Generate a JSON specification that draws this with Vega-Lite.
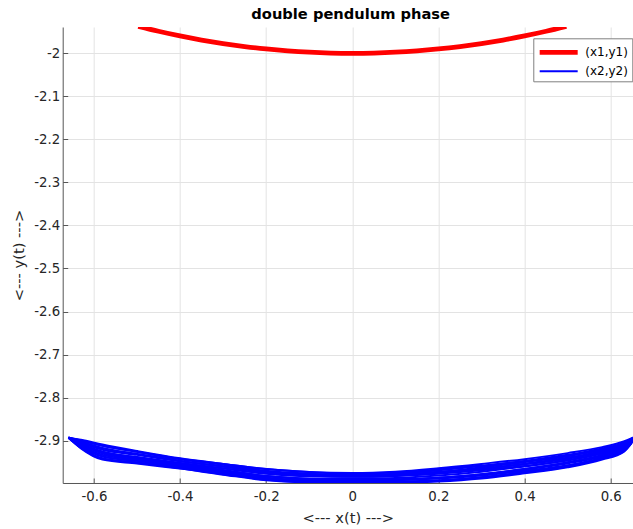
{
  "$schema": "https://vega.github.io/schema/vega-lite/v6.json",
  "width": 570,
  "height": 456,
  "autosize": "none",
  "padding": {"left": 62.7, "top": 27, "right": 0, "bottom": 46},
  "background": "white",
  "title": {"text": "double pendulum phase", "font": "DejaVu Sans", "fontSize": 14.67, "fontWeight": "bold", "color": "#000000", "offset": 5, "dx": 3},
  "data": {"values": [
    {"s":"(x1,y1)","k":0,"x":-0.497,"y":-1.93728},
    {"s":"(x1,y1)","k":0,"x":-0.45,"y":-1.94872},
    {"s":"(x1,y1)","k":0,"x":-0.4,"y":-1.95959},
    {"s":"(x1,y1)","k":0,"x":-0.35,"y":-1.96914},
    {"s":"(x1,y1)","k":0,"x":-0.3,"y":-1.97737},
    {"s":"(x1,y1)","k":0,"x":-0.25,"y":-1.98431},
    {"s":"(x1,y1)","k":0,"x":-0.2,"y":-1.98997},
    {"s":"(x1,y1)","k":0,"x":-0.15,"y":-1.99437},
    {"s":"(x1,y1)","k":0,"x":-0.1,"y":-1.9975},
    {"s":"(x1,y1)","k":0,"x":-0.05,"y":-1.99937},
    {"s":"(x1,y1)","k":0,"x":0,"y":-2.0},
    {"s":"(x1,y1)","k":0,"x":0.05,"y":-1.99937},
    {"s":"(x1,y1)","k":0,"x":0.1,"y":-1.9975},
    {"s":"(x1,y1)","k":0,"x":0.15,"y":-1.99437},
    {"s":"(x1,y1)","k":0,"x":0.2,"y":-1.98997},
    {"s":"(x1,y1)","k":0,"x":0.25,"y":-1.98431},
    {"s":"(x1,y1)","k":0,"x":0.3,"y":-1.97737},
    {"s":"(x1,y1)","k":0,"x":0.35,"y":-1.96914},
    {"s":"(x1,y1)","k":0,"x":0.4,"y":-1.95959},
    {"s":"(x1,y1)","k":0,"x":0.45,"y":-1.94872},
    {"s":"(x1,y1)","k":0,"x":0.497,"y":-1.93728},

    {"s":"(x2,y2)","k":1,"x":-0.659,"y":-2.893},{"s":"(x2,y2)","k":1,"x":-0.63,"y":-2.898},{"s":"(x2,y2)","k":1,"x":-0.58,"y":-2.909},{"s":"(x2,y2)","k":1,"x":-0.5,"y":-2.924},{"s":"(x2,y2)","k":1,"x":-0.4,"y":-2.941},{"s":"(x2,y2)","k":1,"x":-0.3,"y":-2.954},{"s":"(x2,y2)","k":1,"x":-0.2,"y":-2.966},{"s":"(x2,y2)","k":1,"x":-0.1,"y":-2.973},{"s":"(x2,y2)","k":1,"x":0,"y":-2.977},{"s":"(x2,y2)","k":1,"x":0.1,"y":-2.974},{"s":"(x2,y2)","k":1,"x":0.2,"y":-2.967},{"s":"(x2,y2)","k":1,"x":0.3,"y":-2.958},{"s":"(x2,y2)","k":1,"x":0.4,"y":-2.948},{"s":"(x2,y2)","k":1,"x":0.5,"y":-2.935},{"s":"(x2,y2)","k":1,"x":0.58,"y":-2.921},{"s":"(x2,y2)","k":1,"x":0.63,"y":-2.907},{"s":"(x2,y2)","k":1,"x":0.66,"y":-2.889},

    {"s":"(x2,y2)","k":2,"x":-0.659,"y":-2.893},{"s":"(x2,y2)","k":2,"x":-0.63,"y":-2.908},{"s":"(x2,y2)","k":2,"x":-0.58,"y":-2.926},{"s":"(x2,y2)","k":2,"x":-0.5,"y":-2.938},{"s":"(x2,y2)","k":2,"x":-0.4,"y":-2.952},{"s":"(x2,y2)","k":2,"x":-0.3,"y":-2.965},{"s":"(x2,y2)","k":2,"x":-0.2,"y":-2.977},{"s":"(x2,y2)","k":2,"x":-0.1,"y":-2.983},{"s":"(x2,y2)","k":2,"x":0,"y":-2.984},{"s":"(x2,y2)","k":2,"x":0.1,"y":-2.982},{"s":"(x2,y2)","k":2,"x":0.2,"y":-2.975},{"s":"(x2,y2)","k":2,"x":0.3,"y":-2.966},{"s":"(x2,y2)","k":2,"x":0.4,"y":-2.954},{"s":"(x2,y2)","k":2,"x":0.5,"y":-2.94},{"s":"(x2,y2)","k":2,"x":0.58,"y":-2.924},{"s":"(x2,y2)","k":2,"x":0.63,"y":-2.909},{"s":"(x2,y2)","k":2,"x":0.66,"y":-2.889},

    {"s":"(x2,y2)","k":3,"x":-0.659,"y":-2.893},{"s":"(x2,y2)","k":3,"x":-0.63,"y":-2.916},{"s":"(x2,y2)","k":3,"x":-0.58,"y":-2.941},{"s":"(x2,y2)","k":3,"x":-0.5,"y":-2.951},{"s":"(x2,y2)","k":3,"x":-0.4,"y":-2.964},{"s":"(x2,y2)","k":3,"x":-0.3,"y":-2.978},{"s":"(x2,y2)","k":3,"x":-0.2,"y":-2.991},{"s":"(x2,y2)","k":3,"x":-0.1,"y":-2.997},{"s":"(x2,y2)","k":3,"x":0,"y":-2.999},{"s":"(x2,y2)","k":3,"x":0.1,"y":-2.998},{"s":"(x2,y2)","k":3,"x":0.2,"y":-2.995},{"s":"(x2,y2)","k":3,"x":0.3,"y":-2.988},{"s":"(x2,y2)","k":3,"x":0.4,"y":-2.976},{"s":"(x2,y2)","k":3,"x":0.5,"y":-2.962},{"s":"(x2,y2)","k":3,"x":0.58,"y":-2.944},{"s":"(x2,y2)","k":3,"x":0.63,"y":-2.926},{"s":"(x2,y2)","k":3,"x":0.66,"y":-2.889},

    {"s":"(x2,y2)","k":4,"x":-0.659,"y":-2.893},{"s":"(x2,y2)","k":4,"x":-0.63,"y":-2.902},{"s":"(x2,y2)","k":4,"x":-0.58,"y":-2.917},{"s":"(x2,y2)","k":4,"x":-0.5,"y":-2.931},{"s":"(x2,y2)","k":4,"x":-0.4,"y":-2.947},{"s":"(x2,y2)","k":4,"x":-0.3,"y":-2.96},{"s":"(x2,y2)","k":4,"x":-0.2,"y":-2.973},{"s":"(x2,y2)","k":4,"x":-0.1,"y":-2.981},{"s":"(x2,y2)","k":4,"x":0,"y":-2.984},{"s":"(x2,y2)","k":4,"x":0.1,"y":-2.982},{"s":"(x2,y2)","k":4,"x":0.2,"y":-2.977},{"s":"(x2,y2)","k":4,"x":0.3,"y":-2.969},{"s":"(x2,y2)","k":4,"x":0.4,"y":-2.959},{"s":"(x2,y2)","k":4,"x":0.5,"y":-2.946},{"s":"(x2,y2)","k":4,"x":0.58,"y":-2.93},{"s":"(x2,y2)","k":4,"x":0.63,"y":-2.915},{"s":"(x2,y2)","k":4,"x":0.66,"y":-2.889},

    {"s":"(x2,y2)","k":5,"x":-0.659,"y":-2.893},{"s":"(x2,y2)","k":5,"x":-0.63,"y":-2.912},{"s":"(x2,y2)","k":5,"x":-0.58,"y":-2.933},{"s":"(x2,y2)","k":5,"x":-0.5,"y":-2.944},{"s":"(x2,y2)","k":5,"x":-0.4,"y":-2.957},{"s":"(x2,y2)","k":5,"x":-0.3,"y":-2.97},{"s":"(x2,y2)","k":5,"x":-0.2,"y":-2.982},{"s":"(x2,y2)","k":5,"x":-0.1,"y":-2.988},{"s":"(x2,y2)","k":5,"x":0,"y":-2.989},{"s":"(x2,y2)","k":5,"x":0.1,"y":-2.987},{"s":"(x2,y2)","k":5,"x":0.2,"y":-2.981},{"s":"(x2,y2)","k":5,"x":0.3,"y":-2.972},{"s":"(x2,y2)","k":5,"x":0.4,"y":-2.96},{"s":"(x2,y2)","k":5,"x":0.5,"y":-2.945},{"s":"(x2,y2)","k":5,"x":0.58,"y":-2.929},{"s":"(x2,y2)","k":5,"x":0.63,"y":-2.913},{"s":"(x2,y2)","k":5,"x":0.66,"y":-2.889},

    {"s":"(x2,y2)","k":6,"x":-0.659,"y":-2.893},{"s":"(x2,y2)","k":6,"x":-0.63,"y":-2.918},{"s":"(x2,y2)","k":6,"x":-0.58,"y":-2.944},{"s":"(x2,y2)","k":6,"x":-0.5,"y":-2.953},{"s":"(x2,y2)","k":6,"x":-0.4,"y":-2.965},{"s":"(x2,y2)","k":6,"x":-0.3,"y":-2.979},{"s":"(x2,y2)","k":6,"x":-0.2,"y":-2.992},{"s":"(x2,y2)","k":6,"x":-0.1,"y":-2.997},{"s":"(x2,y2)","k":6,"x":0,"y":-2.998},{"s":"(x2,y2)","k":6,"x":0.1,"y":-2.997},{"s":"(x2,y2)","k":6,"x":0.2,"y":-2.993},{"s":"(x2,y2)","k":6,"x":0.3,"y":-2.985},{"s":"(x2,y2)","k":6,"x":0.4,"y":-2.973},{"s":"(x2,y2)","k":6,"x":0.5,"y":-2.958},{"s":"(x2,y2)","k":6,"x":0.58,"y":-2.94},{"s":"(x2,y2)","k":6,"x":0.63,"y":-2.923},{"s":"(x2,y2)","k":6,"x":0.66,"y":-2.889},

    {"s":"(x2,y2)","k":7,"x":-0.659,"y":-2.893},{"s":"(x2,y2)","k":7,"x":-0.63,"y":-2.905},{"s":"(x2,y2)","k":7,"x":-0.58,"y":-2.921},{"s":"(x2,y2)","k":7,"x":-0.5,"y":-2.933},{"s":"(x2,y2)","k":7,"x":-0.4,"y":-2.948},{"s":"(x2,y2)","k":7,"x":-0.3,"y":-2.96},{"s":"(x2,y2)","k":7,"x":-0.2,"y":-2.972},{"s":"(x2,y2)","k":7,"x":-0.1,"y":-2.978},{"s":"(x2,y2)","k":7,"x":0,"y":-2.98},{"s":"(x2,y2)","k":7,"x":0.1,"y":-2.977},{"s":"(x2,y2)","k":7,"x":0.2,"y":-2.969},{"s":"(x2,y2)","k":7,"x":0.3,"y":-2.959},{"s":"(x2,y2)","k":7,"x":0.4,"y":-2.947},{"s":"(x2,y2)","k":7,"x":0.5,"y":-2.933},{"s":"(x2,y2)","k":7,"x":0.58,"y":-2.918},{"s":"(x2,y2)","k":7,"x":0.63,"y":-2.905},{"s":"(x2,y2)","k":7,"x":0.66,"y":-2.889},

    {"s":"(x2,y2)","k":8,"x":-0.659,"y":-2.893},{"s":"(x2,y2)","k":8,"x":-0.63,"y":-2.91},{"s":"(x2,y2)","k":8,"x":-0.58,"y":-2.93},{"s":"(x2,y2)","k":8,"x":-0.5,"y":-2.942},{"s":"(x2,y2)","k":8,"x":-0.4,"y":-2.956},{"s":"(x2,y2)","k":8,"x":-0.3,"y":-2.97},{"s":"(x2,y2)","k":8,"x":-0.2,"y":-2.983},{"s":"(x2,y2)","k":8,"x":-0.1,"y":-2.99},{"s":"(x2,y2)","k":8,"x":0,"y":-2.992},{"s":"(x2,y2)","k":8,"x":0.1,"y":-2.99},{"s":"(x2,y2)","k":8,"x":0.2,"y":-2.986},{"s":"(x2,y2)","k":8,"x":0.3,"y":-2.979},{"s":"(x2,y2)","k":8,"x":0.4,"y":-2.967},{"s":"(x2,y2)","k":8,"x":0.5,"y":-2.953},{"s":"(x2,y2)","k":8,"x":0.58,"y":-2.937},{"s":"(x2,y2)","k":8,"x":0.63,"y":-2.92},{"s":"(x2,y2)","k":8,"x":0.66,"y":-2.889},

    {"s":"(x2,y2)","k":9,"x":-0.659,"y":-2.893},{"s":"(x2,y2)","k":9,"x":-0.63,"y":-2.9},{"s":"(x2,y2)","k":9,"x":-0.58,"y":-2.912},{"s":"(x2,y2)","k":9,"x":-0.5,"y":-2.926},{"s":"(x2,y2)","k":9,"x":-0.4,"y":-2.942},{"s":"(x2,y2)","k":9,"x":-0.3,"y":-2.954},{"s":"(x2,y2)","k":9,"x":-0.2,"y":-2.966},{"s":"(x2,y2)","k":9,"x":-0.1,"y":-2.973},{"s":"(x2,y2)","k":9,"x":0,"y":-2.975},{"s":"(x2,y2)","k":9,"x":0.1,"y":-2.972},{"s":"(x2,y2)","k":9,"x":0.2,"y":-2.964},{"s":"(x2,y2)","k":9,"x":0.3,"y":-2.954},{"s":"(x2,y2)","k":9,"x":0.4,"y":-2.943},{"s":"(x2,y2)","k":9,"x":0.5,"y":-2.929},{"s":"(x2,y2)","k":9,"x":0.58,"y":-2.915},{"s":"(x2,y2)","k":9,"x":0.63,"y":-2.902},{"s":"(x2,y2)","k":9,"x":0.66,"y":-2.889},

    {"s":"(x2,y2)","k":10,"x":-0.659,"y":-2.893},{"s":"(x2,y2)","k":10,"x":-0.63,"y":-2.914},{"s":"(x2,y2)","k":10,"x":-0.58,"y":-2.937},{"s":"(x2,y2)","k":10,"x":-0.5,"y":-2.947},{"s":"(x2,y2)","k":10,"x":-0.4,"y":-2.96},{"s":"(x2,y2)","k":10,"x":-0.3,"y":-2.973},{"s":"(x2,y2)","k":10,"x":-0.2,"y":-2.986},{"s":"(x2,y2)","k":10,"x":-0.1,"y":-2.992},{"s":"(x2,y2)","k":10,"x":0,"y":-2.993},{"s":"(x2,y2)","k":10,"x":0.1,"y":-2.991},{"s":"(x2,y2)","k":10,"x":0.2,"y":-2.986},{"s":"(x2,y2)","k":10,"x":0.3,"y":-2.978},{"s":"(x2,y2)","k":10,"x":0.4,"y":-2.966},{"s":"(x2,y2)","k":10,"x":0.5,"y":-2.951},{"s":"(x2,y2)","k":10,"x":0.58,"y":-2.934},{"s":"(x2,y2)","k":10,"x":0.63,"y":-2.918},{"s":"(x2,y2)","k":10,"x":0.66,"y":-2.889},

    {"s":"(x2,y2)","k":11,"x":-0.659,"y":-2.893},{"s":"(x2,y2)","k":11,"x":-0.63,"y":-2.907},{"s":"(x2,y2)","k":11,"x":-0.58,"y":-2.926},{"s":"(x2,y2)","k":11,"x":-0.5,"y":-2.939},{"s":"(x2,y2)","k":11,"x":-0.4,"y":-2.954},{"s":"(x2,y2)","k":11,"x":-0.3,"y":-2.968},{"s":"(x2,y2)","k":11,"x":-0.2,"y":-2.982},{"s":"(x2,y2)","k":11,"x":-0.1,"y":-2.989},{"s":"(x2,y2)","k":11,"x":0,"y":-2.992},{"s":"(x2,y2)","k":11,"x":0.1,"y":-2.991},{"s":"(x2,y2)","k":11,"x":0.2,"y":-2.988},{"s":"(x2,y2)","k":11,"x":0.3,"y":-2.981},{"s":"(x2,y2)","k":11,"x":0.4,"y":-2.97},{"s":"(x2,y2)","k":11,"x":0.5,"y":-2.957},{"s":"(x2,y2)","k":11,"x":0.58,"y":-2.94},{"s":"(x2,y2)","k":11,"x":0.63,"y":-2.923},{"s":"(x2,y2)","k":11,"x":0.66,"y":-2.889},

    {"s":"(x2,y2)","k":12,"x":-0.659,"y":-2.893},{"s":"(x2,y2)","k":12,"x":-0.63,"y":-2.903},{"s":"(x2,y2)","k":12,"x":-0.58,"y":-2.918},{"s":"(x2,y2)","k":12,"x":-0.5,"y":-2.931},{"s":"(x2,y2)","k":12,"x":-0.4,"y":-2.947},{"s":"(x2,y2)","k":12,"x":-0.3,"y":-2.96},{"s":"(x2,y2)","k":12,"x":-0.2,"y":-2.972},{"s":"(x2,y2)","k":12,"x":-0.1,"y":-2.979},{"s":"(x2,y2)","k":12,"x":0,"y":-2.982},{"s":"(x2,y2)","k":12,"x":0.1,"y":-2.98},{"s":"(x2,y2)","k":12,"x":0.2,"y":-2.973},{"s":"(x2,y2)","k":12,"x":0.3,"y":-2.965},{"s":"(x2,y2)","k":12,"x":0.4,"y":-2.954},{"s":"(x2,y2)","k":12,"x":0.5,"y":-2.94},{"s":"(x2,y2)","k":12,"x":0.58,"y":-2.925},{"s":"(x2,y2)","k":12,"x":0.63,"y":-2.91},{"s":"(x2,y2)","k":12,"x":0.66,"y":-2.889},

    {"s":"(x2,y2)","k":13,"x":-0.659,"y":-2.893},{"s":"(x2,y2)","k":13,"x":-0.63,"y":-2.899},{"s":"(x2,y2)","k":13,"x":-0.58,"y":-2.912},{"s":"(x2,y2)","k":13,"x":-0.5,"y":-2.926},{"s":"(x2,y2)","k":13,"x":-0.4,"y":-2.943},{"s":"(x2,y2)","k":13,"x":-0.3,"y":-2.956},{"s":"(x2,y2)","k":13,"x":-0.2,"y":-2.97},{"s":"(x2,y2)","k":13,"x":-0.1,"y":-2.977},{"s":"(x2,y2)","k":13,"x":0,"y":-2.981},{"s":"(x2,y2)","k":13,"x":0.1,"y":-2.979},{"s":"(x2,y2)","k":13,"x":0.2,"y":-2.973},{"s":"(x2,y2)","k":13,"x":0.3,"y":-2.965},{"s":"(x2,y2)","k":13,"x":0.4,"y":-2.955},{"s":"(x2,y2)","k":13,"x":0.5,"y":-2.942},{"s":"(x2,y2)","k":13,"x":0.58,"y":-2.927},{"s":"(x2,y2)","k":13,"x":0.63,"y":-2.913},{"s":"(x2,y2)","k":13,"x":0.66,"y":-2.889},

    {"s":"(x2,y2)","k":14,"x":-0.659,"y":-2.893},{"s":"(x2,y2)","k":14,"x":-0.63,"y":-2.913},{"s":"(x2,y2)","k":14,"x":-0.58,"y":-2.936},{"s":"(x2,y2)","k":14,"x":-0.5,"y":-2.947},{"s":"(x2,y2)","k":14,"x":-0.4,"y":-2.961},{"s":"(x2,y2)","k":14,"x":-0.3,"y":-2.975},{"s":"(x2,y2)","k":14,"x":-0.2,"y":-2.988},{"s":"(x2,y2)","k":14,"x":-0.1,"y":-2.994},{"s":"(x2,y2)","k":14,"x":0,"y":-2.996},{"s":"(x2,y2)","k":14,"x":0.1,"y":-2.995},{"s":"(x2,y2)","k":14,"x":0.2,"y":-2.992},{"s":"(x2,y2)","k":14,"x":0.3,"y":-2.985},{"s":"(x2,y2)","k":14,"x":0.4,"y":-2.974},{"s":"(x2,y2)","k":14,"x":0.5,"y":-2.96},{"s":"(x2,y2)","k":14,"x":0.58,"y":-2.942},{"s":"(x2,y2)","k":14,"x":0.63,"y":-2.925},{"s":"(x2,y2)","k":14,"x":0.66,"y":-2.889},

    {"s":"(x2,y2)","k":15,"x":-0.659,"y":-2.893},{"s":"(x2,y2)","k":15,"x":-0.63,"y":-2.909},{"s":"(x2,y2)","k":15,"x":-0.58,"y":-2.927},{"s":"(x2,y2)","k":15,"x":-0.5,"y":-2.939},{"s":"(x2,y2)","k":15,"x":-0.4,"y":-2.952},{"s":"(x2,y2)","k":15,"x":-0.3,"y":-2.964},{"s":"(x2,y2)","k":15,"x":-0.2,"y":-2.976},{"s":"(x2,y2)","k":15,"x":-0.1,"y":-2.982},{"s":"(x2,y2)","k":15,"x":0,"y":-2.983},{"s":"(x2,y2)","k":15,"x":0.1,"y":-2.98},{"s":"(x2,y2)","k":15,"x":0.2,"y":-2.973},{"s":"(x2,y2)","k":15,"x":0.3,"y":-2.962},{"s":"(x2,y2)","k":15,"x":0.4,"y":-2.95},{"s":"(x2,y2)","k":15,"x":0.5,"y":-2.936},{"s":"(x2,y2)","k":15,"x":0.58,"y":-2.92},{"s":"(x2,y2)","k":15,"x":0.63,"y":-2.906},{"s":"(x2,y2)","k":15,"x":0.66,"y":-2.889},

    {"s":"(x2,y2)","k":16,"x":-0.659,"y":-2.893},{"s":"(x2,y2)","k":16,"x":-0.63,"y":-2.917},{"s":"(x2,y2)","k":16,"x":-0.58,"y":-2.942},{"s":"(x2,y2)","k":16,"x":-0.5,"y":-2.951},{"s":"(x2,y2)","k":16,"x":-0.4,"y":-2.963},{"s":"(x2,y2)","k":16,"x":-0.3,"y":-2.976},{"s":"(x2,y2)","k":16,"x":-0.2,"y":-2.988},{"s":"(x2,y2)","k":16,"x":-0.1,"y":-2.994},{"s":"(x2,y2)","k":16,"x":0,"y":-2.994},{"s":"(x2,y2)","k":16,"x":0.1,"y":-2.992},{"s":"(x2,y2)","k":16,"x":0.2,"y":-2.987},{"s":"(x2,y2)","k":16,"x":0.3,"y":-2.978},{"s":"(x2,y2)","k":16,"x":0.4,"y":-2.966},{"s":"(x2,y2)","k":16,"x":0.5,"y":-2.95},{"s":"(x2,y2)","k":16,"x":0.58,"y":-2.933},{"s":"(x2,y2)","k":16,"x":0.63,"y":-2.917},{"s":"(x2,y2)","k":16,"x":0.66,"y":-2.889}
  ]},
  "mark": {"type": "line", "clip": true, "interpolate": "monotone"},
  "encoding": {
    "x": {
      "field": "x", "type": "quantitative",
      "scale": {"domain": [-0.6724, 0.651], "nice": false, "zero": false},
      "axis": {
        "title": "<--- x(t) --->",
        "values": [-0.6, -0.4, -0.2, 0, 0.2, 0.4, 0.6],
        "labelExpr": "replace(format(datum.value, '.1~f'), '\u2212', '-')",
        "tickSize": -5, "labelPadding": 12, "titlePadding": 7
      }
    },
    "y": {
      "field": "y", "type": "quantitative",
      "scale": {"domain": [-2.9984, -1.9389], "nice": false, "zero": false},
      "axis": {
        "title": "<--- y(t) --->",
        "values": [-2, -2.1, -2.2, -2.3, -2.4, -2.5, -2.6, -2.7, -2.8, -2.9],
        "labelExpr": "replace(format(datum.value, '.1~f'), '\u2212', '-')",
        "tickSize": -5, "labelPadding": 8, "titlePadding": 7
      }
    },
    "color": {
      "field": "s", "type": "nominal",
      "scale": {"domain": ["(x1,y1)", "(x2,y2)"], "range": ["#ff0000", "#0000ff"]},
      "legend": {"title": null, "orient": "none", "legendX": 470.6, "legendY": 11.3}
    },
    "strokeWidth": {
      "field": "s", "type": "nominal",
      "scale": {"type": "ordinal", "domain": ["(x1,y1)", "(x2,y2)"], "range": [4.8, 2]},
      "legend": {"title": null, "orient": "none", "legendX": 470.6, "legendY": 11.3}
    },
    "detail": {"field": "k", "type": "nominal"}
  },
  "config": {
    "view": {"stroke": null},
    "axis": {
      "labelFont": "DejaVu Sans", "labelFontSize": 13.33, "labelColor": "#262626",
      "titleFont": "DejaVu Sans", "titleFontSize": 14.67, "titleFontWeight": "normal", "titleColor": "#262626",
      "domainColor": "#555555", "tickColor": "#555555", "gridColor": "#e3e3e3", "grid": true
    },
    "legend": {
      "symbolType": "M-1,0H4", "symbolSize": 231, "labelFont": "DejaVu Sans", "labelFontSize": 12,
      "labelColor": "#000000", "strokeColor": "#808080", "fillColor": "#ffffff", "padding": 4,
      "labelOffset": 28, "rowPadding": 0
    }
  }
}
